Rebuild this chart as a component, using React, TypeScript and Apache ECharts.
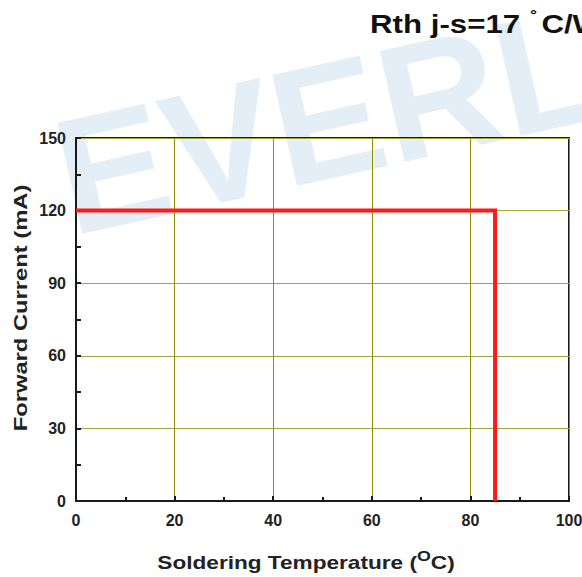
import React, { useEffect, useRef } from "react";
import * as echarts from "echarts";

const xTicks = [0, 20, 40, 60, 80, 100];
const yTicks = [0, 30, 60, 90, 120, 150];
const deratingTemp = [0, 85, 85];
const deratingCurrent = [120, 120, 0];

const titleText = "Rth j-s=17";
const xName = "Soldering Temperature (";
const yName = "Forward Current (mA)";
const watermark = "EVERLIGHT";

export default function App() {
  const ref = useRef<HTMLDivElement>(null);
  useEffect(() => {
    if (!ref.current) return;
    const chart = echarts.init(ref.current, null, { renderer: "svg" });
    const data = deratingTemp.map((t, i) => [t, deratingCurrent[i]]);
    const font = "'Liberation Sans', Arial, sans-serif";
    chart.setOption({
      animation: false,
      backgroundColor: "#ffffff",
      textStyle: { fontFamily: font },
      grid: {
        left: 76,
        right: 13,
        top: 138,
        bottom: 76,
        outerBoundsMode: "none",
        containLabel: false,
        show: true,
        borderColor: "#1a1a1a",
        borderWidth: 2,
        backgroundColor: "transparent",
      },
      xAxis: {
        type: "value",
        min: xTicks[0],
        max: xTicks[xTicks.length - 1],
        interval: 20,
        axisLine: { show: true, lineStyle: { color: "#1a1a1a", width: 2 } },
        axisTick: { show: true, inside: true, length: 5, lineStyle: { color: "#1a1a1a", width: 2 } },
        minorTick: { show: true, splitNumber: 2, length: 4, lineStyle: { color: "#1a1a1a", width: 2 } },
        splitLine: { show: true, lineStyle: { color: "#8f8f00", width: 1 } },
        axisLabel: { color: "#222", fontWeight: "bold", fontSize: 16, margin: 11, fontFamily: font },
      },
      yAxis: {
        type: "value",
        min: yTicks[0],
        max: yTicks[yTicks.length - 1],
        interval: 30,
        axisLine: { show: true, lineStyle: { color: "#1a1a1a", width: 2 } },
        axisTick: { show: true, inside: true, length: 5, lineStyle: { color: "#1a1a1a", width: 2 } },
        minorTick: { show: true, splitNumber: 2, length: 5, lineStyle: { color: "#1a1a1a", width: 2 } },
        splitLine: { show: true, lineStyle: { color: "#a5a540", width: 1 } },
        axisLabel: { color: "#222", fontWeight: "bold", fontSize: 16, margin: 10, fontFamily: font },
      },
      graphic: [
        {
          type: "text",
          x: 41,
          y: 100,
          rotation: 0.22,
          z: -10,
          silent: true,
          style: {
            text: watermark,
            fill: "#e4eef7",
            font: `bold 165px ${font}`,
            verticalAlign: "top",
          },
        },
        {
          type: "text",
          x: 370,
          y: 24,
          scaleX: 1.25,
          style: {
            text: `{a|${titleText} }{d|˚}{a|C/W}`,
            verticalAlign: "middle",
            rich: {
              a: { fontSize: 25, fontWeight: "bold", fill: "#111", fontFamily: font },
              d: { fontSize: 18, fontWeight: "bold", fill: "#111", fontFamily: font, verticalAlign: "top", padding: [0, 3, 12, 1] },
            },
          },
        },
        {
          type: "text",
          x: 306,
          y: 562,
          scaleX: 1.19,
          style: {
            text: `{a|${xName}}{s|O}{a|C)}`,
            align: "center",
            verticalAlign: "middle",
            rich: {
              a: { fontSize: 19, fontWeight: "bold", fill: "#222", fontFamily: font },
              s: { fontSize: 15, fontWeight: "bold", fill: "#222", fontFamily: font, padding: [0, 0, 12, 0] },
            },
          },
        },
        {
          type: "text",
          x: 21,
          y: 308,
          rotation: Math.PI / 2,
          scaleX: 1.25,
          style: {
            text: yName,
            align: "center",
            verticalAlign: "middle",
            fontSize: 19,
            fontWeight: "bold",
            fill: "#222",
            fontFamily: font,
          },
        },
      ],
      series: [
        {
          type: "line",
          data,
          symbol: "none",
          lineStyle: { color: "#ff1a1a", width: 4, join: "miter" },
          z: 5,
        },
      ],
    });
    return () => chart.dispose();
  }, []);
  return <div ref={ref} style={{ width: 582, height: 577, position: "absolute", left: 0, top: 0 }} />;
}
